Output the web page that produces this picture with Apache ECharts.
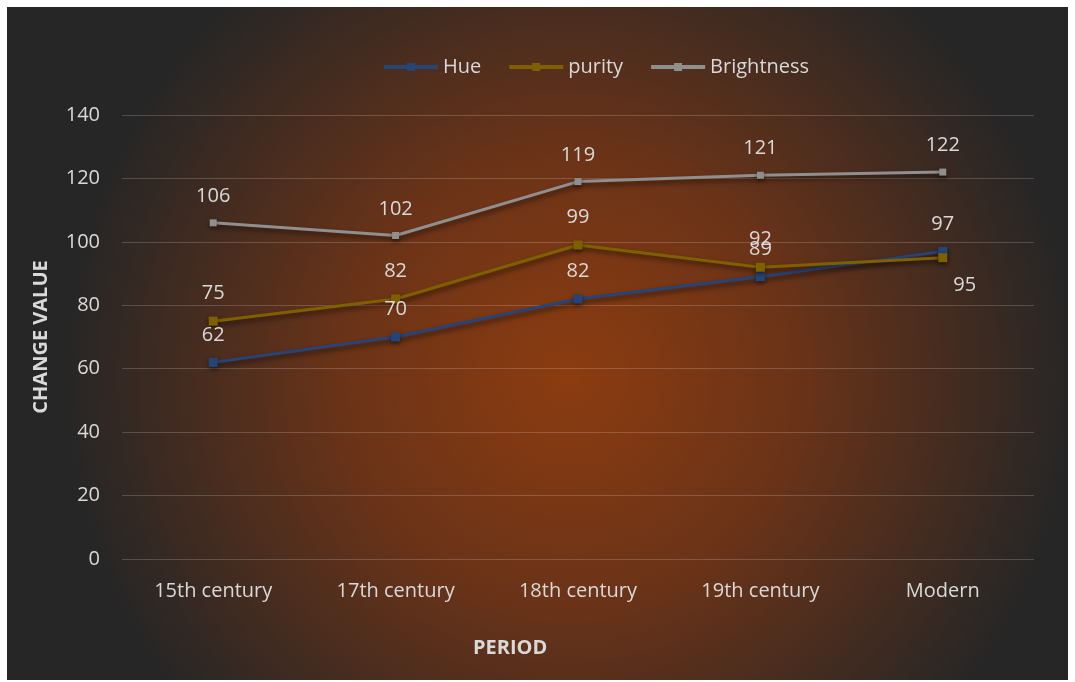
<!DOCTYPE html>
<html><head><meta charset="utf-8">
<script src="https://cdn.jsdelivr.net/npm/echarts@6/dist/echarts.min.js"></script>
<style>
html,body{margin:0;padding:0;background:#fff;width:1075px;height:682px;overflow:hidden}
#c{position:absolute;left:7px;top:7px;width:1061px;height:673px}
</style></head><body>
<div id="c"></div>
<script>
const categories = ['15th century','17th century','18th century','19th century','Modern'];
const hue = [62, 70, 82, 89, 97];
const purity = [75, 82, 99, 92, 95];
const brightness = [106, 102, 119, 121, 122];
const yTicks = {min: 0, max: 140, interval: 20};

const chart = echarts.init(document.getElementById('c'));
const font = 'Open Sans';
const txt = '#d9d9d9';
function mk(name, data, color, sym) {
  return {
    name, type: 'line', data, symbol: 'rect', symbolSize: sym,
    lineStyle: {color, width: 3, shadowColor: 'rgba(0,0,0,0.55)', shadowBlur: 5, shadowOffsetX: 2, shadowOffsetY: 3},
    itemStyle: {color, shadowColor: 'rgba(0,0,0,0.5)', shadowBlur: 4, shadowOffsetY: 2},
    label: {show: true, position: 'top', distance: 13, color: txt, fontFamily: font, fontSize: 20},
    emphasis: {disabled: true}
  };
}
const sHue = mk('Hue', hue, '#264478', 9);
const sPur = mk('purity', purity, '#7f6000', 9);
sPur.data = purity.map((v, i) => i === 4 ? {value: v, label: {position: 'right', offset: [0, 28], distance: 6}} : v);
const sBri = mk('Brightness', brightness, '#8f8f8f', 7);

chart.setOption({
  backgroundColor: {type: 'radial', x: 0.53, y: 0.55, r: 0.75,
    colorStops: [{offset: 0, color: '#8c3c10'}, {offset: 0.45, color: '#6a3318'}, {offset: 1, color: '#262626'}]},
  animation: false,
  legend: {top: 45, left: 370, itemWidth: 54, itemHeight: 10, itemGap: 26,
    lineStyle: {width: 4, shadowBlur: 0, shadowOffsetX: 0, shadowOffsetY: 0},
    textStyle: {color: txt, fontFamily: font, fontSize: 20}},
  grid: {left: 115, right: 34, top: 108, bottom: 121, containLabel: false},
  xAxis: {type: 'category', data: categories, boundaryGap: true,
    axisLine: {show: false}, axisTick: {show: false},
    axisLabel: {color: txt, fontFamily: font, fontSize: 20, margin: 22}},
  yAxis: {type: 'value', min: yTicks.min, max: yTicks.max, interval: yTicks.interval,
    axisLine: {show: false}, axisTick: {show: false},
    axisLabel: {color: txt, fontFamily: font, fontSize: 20, margin: 22},
    splitLine: {lineStyle: {color: 'rgba(255,255,255,0.18)', width: 1}},
    name: 'CHANGE VALUE', nameLocation: 'middle', nameGap: 71, nameRotate: 90,
    nameTextStyle: {color: txt, fontFamily: font, fontSize: 20, fontWeight: 'bold'}},
  graphic: [{type: 'text', left: 466, top: 631,
    style: {text: 'PERIOD', fill: txt, font: 'bold 20px "Open Sans"'}}],
  series: [sHue, sPur, sBri]
});
</script></body></html>
